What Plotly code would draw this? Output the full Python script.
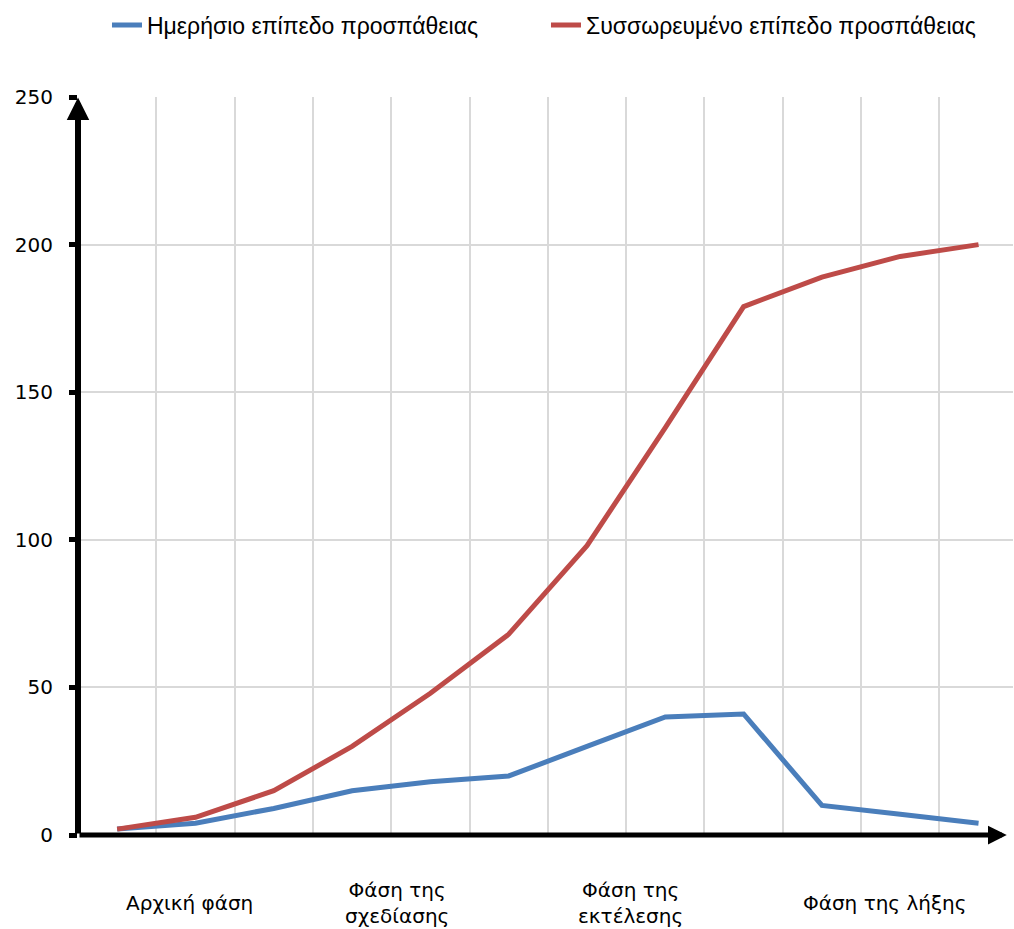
import plotly.graph_objects as go

# ---- data ----
steps = list(range(1, 13))
daily_effort = [2, 4, 9, 15, 18, 20, 30, 40, 41, 10, 7, 4]
cumulative_effort = [2, 6, 15, 30, 48, 68, 98, 138, 179, 189, 196, 200]
series_names = ["Ημερήσιο επίπεδο προσπάθειας", "Συσσωρευμένο επίπεδο προσπάθειας"]
phase_labels = ["Αρχική φάση", "Φάση της<br>σχεδίασης", "Φάση της<br>εκτέλεσης", "Φάση της λήξης"]
phase_label_pos = [1.93, 4.57, 7.56, 10.8]
y_ticks = [0, 50, 100, 150, 200, 250]

BLUE = "#4A7EBB"
RED = "#BE4B48"
GRID = "#D9D9D9"
X_MIN, X_MAX = 0.5, 12.44

fig = go.Figure()
fig.add_trace(go.Scatter(x=steps, y=daily_effort, mode="lines", name=series_names[0],
                         line=dict(color=BLUE, width=5)))
fig.add_trace(go.Scatter(x=steps, y=cumulative_effort, mode="lines", name=series_names[1],
                         line=dict(color=RED, width=5)))

annotations = []
for lbl, pos in zip(phase_labels, phase_label_pos):
    annotations.append(dict(x=pos, xref="x", y=0, yref="paper", yanchor="middle",
                            yshift=-68, text=lbl, showarrow=False, align="center",
                            font=dict(family="DejaVu Sans", size=20, color="black")))
# axis arrows
annotations.append(dict(x=X_MIN, y=y_ticks[-1] - 0.2, xref="x", yref="y", ax=X_MIN, ay=0,
                        axref="x", ayref="y", showarrow=True, arrowhead=2, arrowsize=0.75,
                        arrowwidth=6, arrowcolor="black", text=""))
annotations.append(dict(x=X_MAX - 0.08, y=0, xref="x", yref="y", ax=X_MIN, ay=0,
                        axref="x", ayref="y", showarrow=True, arrowhead=2, arrowsize=0.75,
                        arrowwidth=5, arrowcolor="black", text=""))

fig.update_layout(
    width=1014, height=929,
    margin=dict(l=78, r=1, t=97, b=94, pad=0),
    paper_bgcolor="white", plot_bgcolor="white",
    showlegend=True,
    legend=dict(orientation="h", x=0.031, xanchor="left", y=1 - 25 / 929, yref="container",
                yanchor="middle", entrywidth=394, entrywidthmode="pixels",
                font=dict(family="Liberation Sans", size=23, color="black"),
                bgcolor="rgba(0,0,0,0)"),
    xaxis=dict(range=[X_MIN, X_MAX], tickmode="linear", tick0=0.5, dtick=1,
               showgrid=True, gridcolor=GRID, gridwidth=2, showticklabels=False,
               zeroline=False, showline=False, ticks=""),
    yaxis=dict(range=[0, 250], tickmode="array", tickvals=y_ticks, showgrid=True,
               gridcolor=GRID, gridwidth=2, zeroline=False, showline=False,
               ticks="outside", ticklen=8, tickwidth=5, tickcolor="black",
               ticklabelstandoff=12,
               tickfont=dict(family="DejaVu Sans", size=20, color="black")),
    annotations=annotations,
)

fig.write_html("out.html")
